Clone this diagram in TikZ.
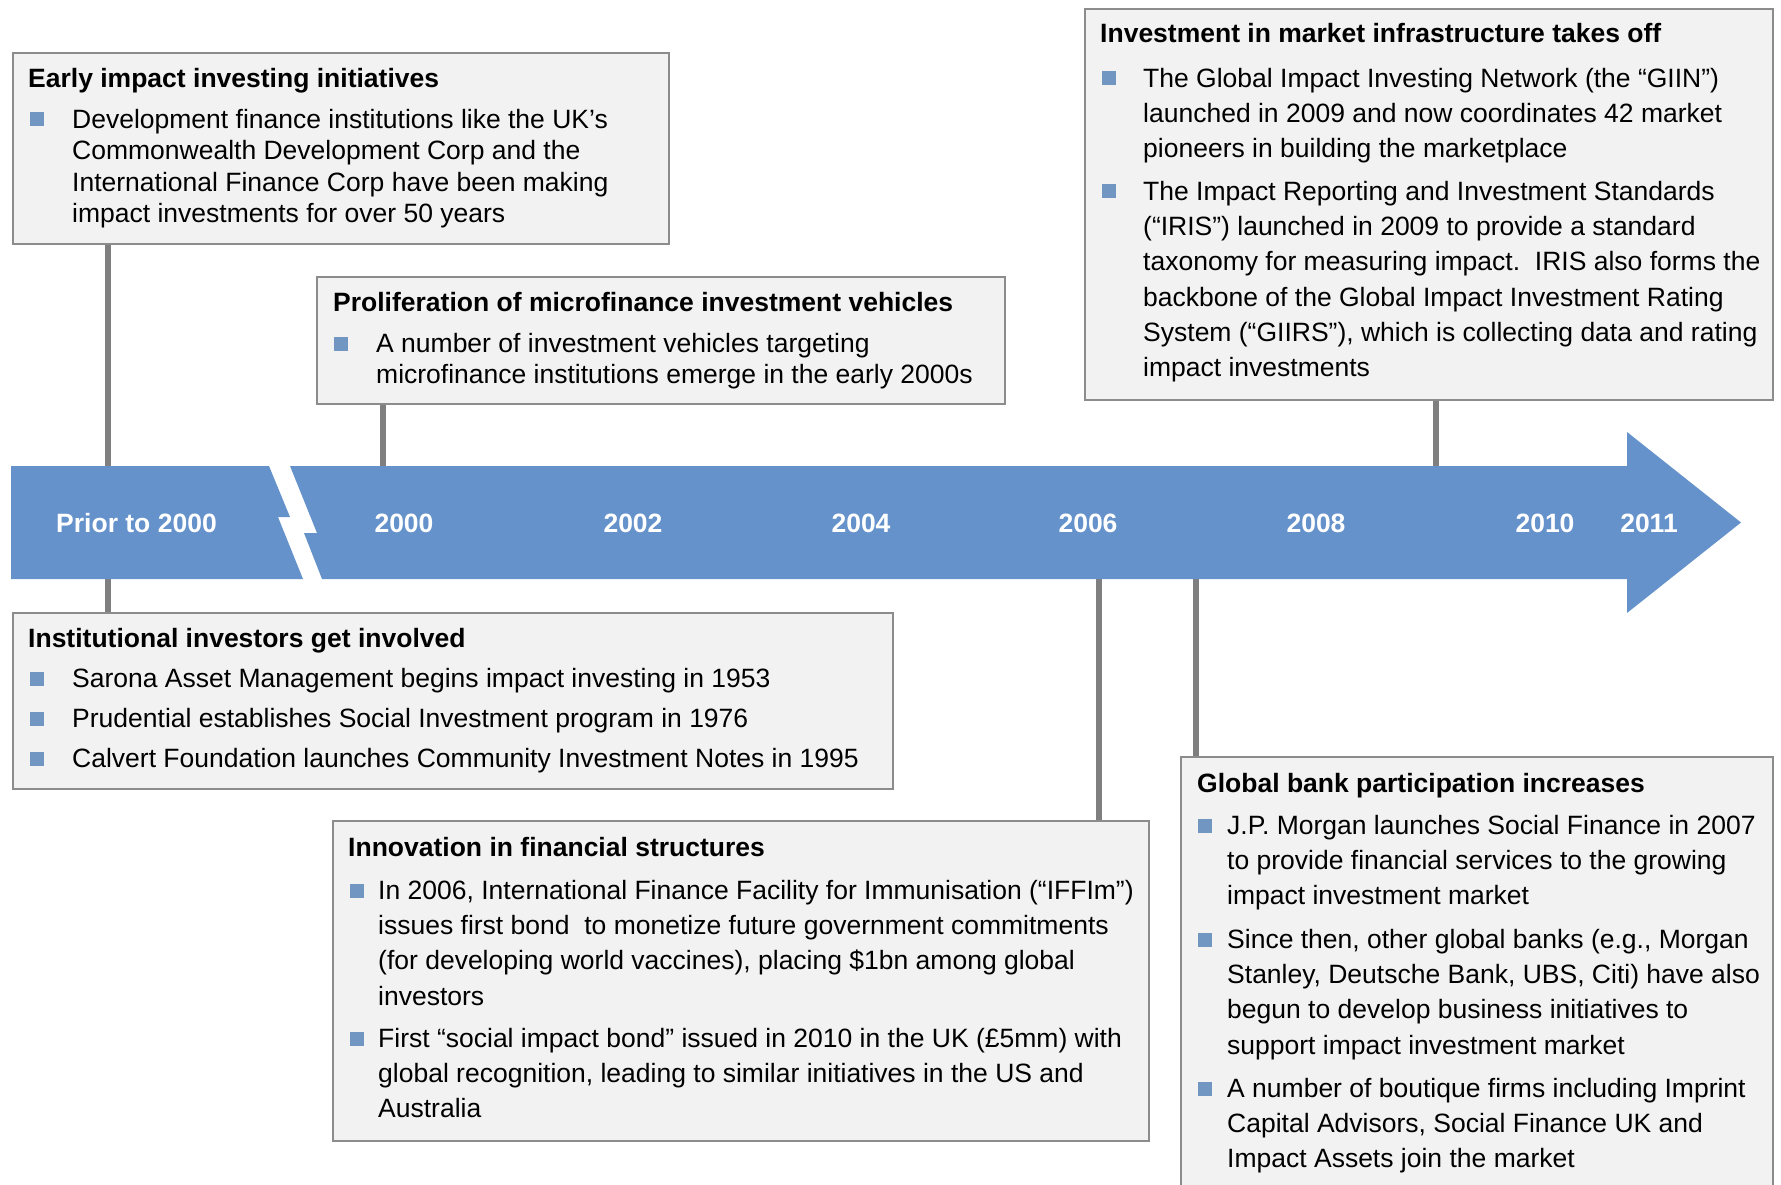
\documentclass[tikz,border=0pt]{standalone}
\usepackage{fontspec}
\setmainfont{Liberation Sans}
\usetikzlibrary{backgrounds}
\definecolor{arrowblue}{RGB}{101,146,203}
\definecolor{boxfill}{RGB}{242,242,242}
\definecolor{boxline}{RGB}{140,140,140}
\definecolor{connline}{RGB}{127,127,127}
\definecolor{bulletblue}{RGB}{114,150,194}
\tikzset{
  box/.style={draw=boxline, fill=boxfill, line width=2.2pt, inner sep=0pt, anchor=north west},
  conn/.style={draw=connline, line width=5.5pt},
  ttl/.style={anchor=base west, inner sep=0pt, font=\fontsize{26.5}{32}\selectfont\bfseries},
  para/.style={anchor=north west, inner sep=0pt, align=left, font=\fontsize{26.5}{35.3}\selectfont},
  paratight/.style={para, font=\fontsize{26.5}{31.6}\selectfont},
  yr/.style={anchor=base, inner sep=0pt, text=white, font=\fontsize{26.5}{32}\selectfont\bfseries},
  bul/.style={fill=bulletblue, minimum size=14pt, inner sep=0pt, anchor=center},
}
\begin{document}
\begin{tikzpicture}[x=1pt,y=-1pt]
\useasboundingbox (0,0) rectangle (1781,1185);

% boxes
\node[box, minimum width=656.5pt, minimum height=191pt] (A) at (11.5,52) {};
\node[box, minimum width=688pt, minimum height=127pt] (B) at (316,276) {};
\node[box, minimum width=688.5pt, minimum height=391pt] (C) at (1083.5,8) {};
\node[box, minimum width=880.5pt, minimum height=176pt] (D) at (11.5,612) {};
\node[box, minimum width=816pt, minimum height=320pt] (E) at (332,820) {};
\node[box, minimum width=592pt, minimum height=450pt] (F) at (1180,756) {};

% connector anchors
\coordinate (cA) at (108,0);
\coordinate (cB) at (383,0);
\coordinate (cC) at (1436,0);
\coordinate (cE) at (1099,0);
\coordinate (cF) at (1196,0);
\coordinate (atop) at (0,472);
\coordinate (abot) at (0,573);

\begin{pgfonlayer}{background}
\fill[white] (0,0) rectangle (1781,1185);
\draw[conn] (A.south -| cA) -- (cA |- atop);
\draw[conn] (cA |- abot) -- (D.north -| cA);
\draw[conn] (B.south -| cB) -- (cB |- atop);
\draw[conn] (C.south -| cC) -- (cC |- atop);
\draw[conn] (cE |- abot) -- (E.north -| cE);
\draw[conn] (cF |- abot) -- (F.north -| cF);
% timeline arrow
\fill[arrowblue] (11,466) -- (269,466) -- (290,517) -- (278,517) -- (303,579) -- (11,579) -- cycle;
\fill[arrowblue] (290,466) -- (1627,466) -- (1627,432) -- (1741,522.5) -- (1627,613) -- (1627,579) -- (322,579) -- (304,533) -- (317,533) -- cycle;
\end{pgfonlayer}

% year labels
\node[yr] (y0) at (136.5,532) {Prior to 2000};
\node[yr] (y2000) at (404,532) {2000};
\node[yr] (y2002) at (633,532) {2002};
\node[yr] (y2004) at (861,532) {2004};
\node[yr] (y2006) at (1088,532) {2006};
\node[yr] (y2008) at (1316,532) {2008};
\node[yr] (y2010) at (1545,532) {2010};
\node[yr] (y2011) at (1649,532) {2011};

% Box A
\node[ttl] (tA) at (28,88) {Early impact investing initiatives};
\node[bul] (bA1) at (36.5,119.5) {};
\node[paratight] (pA1) at (72,105.88) {\strut Development finance institutions like the UK’s\\Commonwealth Development Corp and the\\International Finance Corp have been making\\impact investments for over 50 years};

% Box B
\node[ttl] (tB) at (333,312) {Proliferation of microfinance investment vehicles};
\node[bul] (bB1) at (340.5,343.5) {};
\node[paratight] (pB1) at (376,329.88) {\strut A number of investment vehicles targeting\\microfinance institutions emerge in the early 2000s};

% Box C
\node[ttl] (tC) at (1100,43) {Investment in market infrastructure takes off};
\node[bul] (bC1) at (1109,78.5) {};
\node[para] (pC1) at (1143,62.29) {\strut The Global Impact Investing Network (the “GIIN”)\\launched in 2009 and now coordinates 42 market\\pioneers in building the marketplace};
\node[bul] (bC2) at (1109,191.5) {};
\node[para] (pC2) at (1143,175.29) {\strut The Impact Reporting and Investment Standards\\(“IRIS”) launched in 2009 to provide a standard\\taxonomy for measuring impact.\ \ IRIS also forms the\\backbone of the Global Impact Investment Rating\\System (“GIIRS”), which is collecting data and rating\\impact investments};

% Box D
\node[ttl] (tD) at (28,647) {Institutional investors get involved};
\node[bul] (bD1) at (36.5,678.5) {};
\node[para] (pD1) at (72,662.29) {\strut Sarona Asset Management begins impact investing in 1953};
\node[bul] (bD2) at (36.5,718.5) {};
\node[para] (pD2) at (72,702.29) {\strut Prudential establishes Social Investment program in 1976};
\node[bul] (bD3) at (36.5,758.5) {};
\node[para] (pD3) at (72,742.29) {\strut Calvert Foundation launches Community Investment Notes in 1995};

% Box E
\node[ttl] (tE) at (348,856) {Innovation in financial structures};
\node[bul] (bE1) at (356.5,890.5) {};
\node[para] (pE1) at (378,874.29) {\strut In 2006, International Finance Facility for Immunisation (“IFFIm”)\\issues first bond \ to monetize future government commitments\\(for developing world vaccines), placing \$1bn among global\\investors};
\node[bul] (bE2) at (356.5,1038.5) {};
\node[para] (pE2) at (378,1022.29) {\strut First “social impact bond” issued in 2010 in the UK (£5mm) with\\global recognition, leading to similar initiatives in the US and\\Australia};

% Box F
\node[ttl] (tF) at (1197,792) {Global bank participation increases};
\node[bul] (bF1) at (1204.5,825.5) {};
\node[para] (pF1) at (1227,809.29) {\strut J.P. Morgan launches Social Finance in 2007\\to provide financial services to the growing\\impact investment market};
\node[bul] (bF2) at (1204.5,939.5) {};
\node[para] (pF2) at (1227,923.29) {\strut Since then, other global banks (e.g., Morgan\\Stanley, Deutsche Bank, UBS, Citi) have also\\begun to develop business initiatives to\\support impact investment market};
\node[bul] (bF3) at (1204.5,1088.5) {};
\node[para] (pF3) at (1227,1072.29) {\strut A number of boutique firms including Imprint\\Capital Advisors, Social Finance UK and\\Impact Assets join the market};
\end{tikzpicture}
\end{document}
